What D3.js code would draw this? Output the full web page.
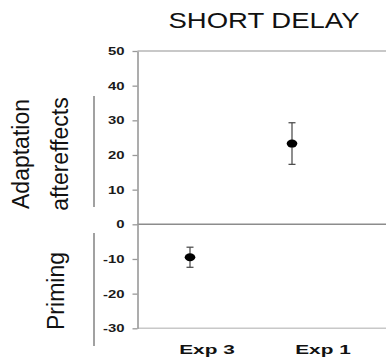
<!DOCTYPE html>
<html>
<head>
<meta charset="utf-8">
<script src="https://cdn.jsdelivr.net/npm/d3@7"></script>
<style>
  html, body { margin: 0; padding: 0; background: #fff; }
  svg { display: block; font-family: Arial, "Liberation Sans", Helvetica, sans-serif; }
</style>
</head>
<body>
<svg id="chart" width="386" height="364"></svg>
<script>
// Conditions shown along the x axis
const categories = ["Exp 3", "Exp 1"];
// Mean effect per condition and its error-bar half-width
const means = [-9.5, 23.3];
const errors = [2.9, 6.0];
// Y-axis tick values
const yTicks = [50, 40, 30, 20, 10, 0, -10, -20, -30];
const title = "SHORT DELAY";
const upperLabel = ["Adaptation", "aftereffects"];
const lowerLabel = "Priming";

const svg = d3.select("#chart");

const y = d3.scaleLinear().domain([-30, 50]).range([328.3, 51]);
const x = d3.scalePoint().domain(categories).range([190, 292]);
const xLabel = d3.scalePoint().domain(categories).range([207, 323]);
const axisX = 137.5, rightX = 386;

// widen text horizontally by factor k
function widen(sel, k) {
  sel.each(function () {
    const w = this.getComputedTextLength();
    d3.select(this).attr("textLength", w * k).attr("lengthAdjust", "spacingAndGlyphs");
  });
}

// Title
svg.append("text")
  .attr("x", 264).attr("y", 28.3)
  .attr("text-anchor", "middle")
  .attr("font-size", 22)
  .attr("fill", "#111")
  .text(title)
  .call(widen, 1.25);

// Horizontal reference lines: top frame, zero, bottom frame
svg.append("line")
  .attr("x1", axisX).attr("x2", rightX)
  .attr("y1", y(50)).attr("y2", y(50))
  .attr("stroke", "#c8c8c8").attr("stroke-width", 2);
svg.append("line")
  .attr("x1", axisX).attr("x2", rightX)
  .attr("y1", y(-30)).attr("y2", y(-30))
  .attr("stroke", "#c8c8c8").attr("stroke-width", 1.5);
svg.append("line")
  .attr("x1", axisX).attr("x2", rightX)
  .attr("y1", y(0)).attr("y2", y(0))
  .attr("stroke", "#8c8c8c").attr("stroke-width", 1.6);

// Y axis (plain hyphen for negative values)
const yAxis = svg.append("g")
  .attr("transform", `translate(${axisX},0)`)
  .call(d3.axisLeft(y).tickValues(yTicks).tickFormat(d => String(d))
    .tickSize(5).tickPadding(8).tickSizeOuter(0));
yAxis.select(".domain").attr("stroke", "#999").attr("stroke-width", 1.6);
yAxis.selectAll(".tick line").attr("stroke", "#999").attr("stroke-width", 1.3);
yAxis.selectAll(".tick text")
  .attr("font-size", 11)
  .attr("font-weight", "bold")
  .attr("fill", "#1a1a1a")
  .attr("font-family", "Arial, 'Liberation Sans', sans-serif")
  .call(widen, 1.35);

// Category labels
svg.selectAll("text.cat")
  .data(categories)
  .join("text")
  .attr("class", "cat")
  .attr("x", d => xLabel(d))
  .attr("y", 354)
  .attr("text-anchor", "middle")
  .attr("font-size", 13)
  .attr("font-weight", "bold")
  .attr("fill", "#111")
  .text(d => d)
  .call(widen, 1.6);

// Error bars
const data = categories.map((c, i) => ({ c, m: means[i], e: errors[i] }));
const bars = svg.append("g").attr("stroke", "#444").attr("stroke-width", 1.2);
bars.selectAll("line.v").data(data).join("line")
  .attr("x1", d => x(d.c)).attr("x2", d => x(d.c))
  .attr("y1", d => y(d.m + d.e)).attr("y2", d => y(d.m - d.e));
bars.selectAll("line.top").data(data).join("line")
  .attr("x1", d => x(d.c) - 3.5).attr("x2", d => x(d.c) + 3.5)
  .attr("y1", d => y(d.m + d.e)).attr("y2", d => y(d.m + d.e));
bars.selectAll("line.bot").data(data).join("line")
  .attr("x1", d => x(d.c) - 3.5).attr("x2", d => x(d.c) + 3.5)
  .attr("y1", d => y(d.m - d.e)).attr("y2", d => y(d.m - d.e));

// Mean markers
svg.selectAll("ellipse.pt").data(data).join("ellipse")
  .attr("class", "pt")
  .attr("cx", d => x(d.c)).attr("cy", d => y(d.m))
  .attr("rx", 5.3).attr("ry", 4)
  .attr("fill", "#000");

// Side brackets grouping the positive and negative ranges
const brackets = [[96, 207], [233, 346]];
svg.selectAll("line.br").data(brackets).join("line")
  .attr("class", "br")
  .attr("x1", 94).attr("x2", 94)
  .attr("y1", d => d[0]).attr("y2", d => d[1])
  .attr("stroke", "#8a8a8a").attr("stroke-width", 1.6);

// Rotated range labels
svg.selectAll("text.up").data(upperLabel).join("text")
  .attr("class", "up")
  .attr("transform", (d, i) => `translate(${[29, 67.5][i]},154) rotate(-90)`)
  .attr("text-anchor", "middle")
  .attr("font-size", 23)
  .attr("fill", "#111")
  .text(d => d);
svg.append("text")
  .attr("transform", "translate(64,291) rotate(-90)")
  .attr("text-anchor", "middle")
  .attr("font-size", 23)
  .attr("fill", "#111")
  .text(lowerLabel);
</script>
</body>
</html>
